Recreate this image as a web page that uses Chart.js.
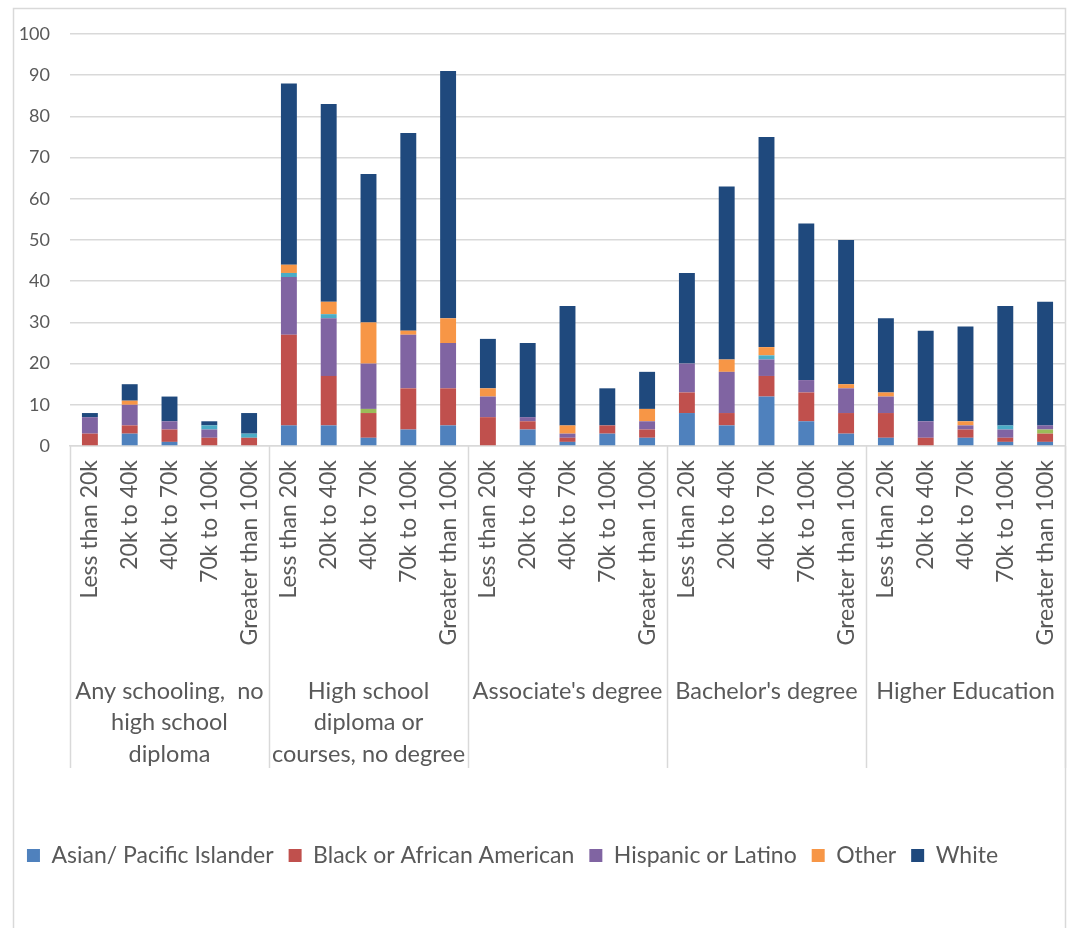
<!DOCTYPE html>
<html>
<head>
<meta charset="utf-8">
<script src="https://cdn.jsdelivr.net/npm/chart.js@4.4.0/dist/chart.umd.min.js"></script>
<style>
  html, body { margin: 0; padding: 0; background: #fff; }
  #wrap { width: 1069px; height: 928px; }
</style>
</head>
<body>
<div id="wrap"><canvas id="chart"></canvas></div>
<script>
'use strict'

const incomeLabels = ['Less than 20k', '20k to 40k', '40k to 70k', '70k to 100k', 'Greater than 100k']
const educationGroups = [
    ['Any schooling,  no', 'high school', 'diploma'],
    ['High school', 'diploma or', 'courses, no degree'],
    ["Associate's degree"],
    ["Bachelor's degree"],
    ['Higher Education']
]

// 25 bars: the five income brackets inside each education group
const asian    = [0, 3, 1, 0, 0,   5, 5, 2, 4, 5,       0, 4, 1, 3, 2,    8, 5, 12, 6, 3,     2, 0, 2, 1, 1]
const black    = [3, 2, 3, 2, 2,   22, 12, 6, 10, 9,    7, 2, 1, 2, 2,    5, 3, 5, 7, 5,      6, 2, 2, 1, 2]
const native   = [0, 0, 0, 0, 0,   0, 0, 1, 0, 0,       0, 0, 0, 0, 0,    0, 0, 0, 0, 0,      0, 0, 0, 0, 1]
const hispanic = [4, 5, 2, 2, 0,   14, 14, 11, 13, 11,  5, 1, 1, 0, 2,    7, 10, 4, 3, 6,     4, 4, 1, 2, 1]
const multi    = [0, 0, 0, 1, 1,   1, 1, 0, 0, 0,       0, 0, 0, 0, 0,    0, 0, 1, 0, 0,      0, 0, 0, 1, 0]
const other    = [0, 1, 0, 0, 0,   2, 3, 10, 1, 6,      2, 0, 2, 0, 3,    0, 3, 2, 0, 1,      1, 0, 1, 0, 0]
const white    = [1, 4, 6, 1, 5,   44, 48, 36, 48, 60,  12, 18, 29, 9, 9, 22, 42, 51, 38, 35, 18, 22, 23, 29, 30]

const yTicks = [0, 10, 20, 30, 40, 50, 60, 70, 80, 90, 100]

const textColor = '#595959'
const lineColor = '#d9d9d9'
const fontFamily = 'Lato, "Open Sans", sans-serif'

const chartLabels = educationGroups.flatMap(() => incomeLabels)

const series = [
    {label: 'Asian/ Pacific Islander', data: asian, color: '#4f81bd', legend: true},
    {label: 'Black or African American', data: black, color: '#c0504d', legend: true},
    {label: 'American Indian', data: native, color: '#9bbb59', legend: false},
    {label: 'Hispanic or Latino', data: hispanic, color: '#8064a2', legend: true},
    {label: 'Two or more races', data: multi, color: '#4bacc6', legend: false},
    {label: 'Other', data: other, color: '#f79646', legend: true},
    {label: 'White', data: white, color: '#1f497d', legend: true}
]

// frame around the whole chart
const chartFrame = {
    id: 'chartFrame',
    beforeDraw(chart) {
        const ctx = chart.ctx
        ctx.save()
        ctx.fillStyle = '#fff'
        ctx.fillRect(0, 0, chart.width, chart.height)
        ctx.strokeStyle = lineColor
        ctx.lineWidth = 1.5
        ctx.strokeRect(13.5, 8.5, 1052, 940)
        ctx.restore()
    },
    // legend sits a little left of centre
    afterLayout(chart) {
        chart.legend.right -= 40
    }
}

// second level of the category axis: group names and separators
const groupAxis = {
    id: 'groupAxis',
    afterDraw(chart) {
        const {ctx, chartArea} = chart
        const x = chart.scales.x
        const step = x.getPixelForValue(1) - x.getPixelForValue(0)
        const per = incomeLabels.length
        const top = chartArea.bottom
        const bottom = top + 322

        ctx.save()
        ctx.strokeStyle = lineColor
        ctx.lineWidth = 1.5
        for (let g = 0; g <= educationGroups.length; g++) {
            const px = Math.round(x.getPixelForValue(g * per) - step / 2) + 0.5
            ctx.beginPath()
            ctx.moveTo(px, top)
            ctx.lineTo(px, bottom)
            ctx.stroke()
        }

        ctx.fillStyle = textColor
        ctx.font = `23.5px ${fontFamily}`
        ctx.textAlign = 'center'
        ctx.textBaseline = 'middle'
        educationGroups.forEach((lines, g) => {
            const mid = x.getPixelForValue(g * per + (per - 1) / 2)
            lines.forEach((line, i) => {
                ctx.fillText(line, mid, top + 245 + i * 31.5)
            })
        })
        ctx.restore()
    }
}

const data = {
    labels: chartLabels,
    datasets: series.map(s => ({
        label: s.label,
        data: s.data,
        backgroundColor: s.color,
        borderWidth: 0,
        barPercentage: 0.4,
        categoryPercentage: 1.0,
        showInLegend: s.legend
    }))
}

const config = {
    type: 'bar',
    data: data,
    options: {
        responsive: false,
        animation: false,
        layout: {padding: {left: 0, right: 4, top: 34, bottom: 51}},
        scales: {
            x: {
                stacked: true,
                grid: {display: false, drawTicks: false},
                border: {color: lineColor, width: 1.5},
                ticks: {
                    color: textColor,
                    font: {family: fontFamily, size: 23},
                    minRotation: 90,
                    maxRotation: 90,
                    autoSkip: false,
                    padding: 14
                },
                afterFit: scale => {
                    scale.height = 383
                    scale.paddingLeft = 0
                    scale.paddingRight = 0
                }
            },
            y: {
                stacked: true,
                min: 0,
                max: 100,
                afterBuildTicks: scale => { scale.ticks = yTicks.map(v => ({value: v})) },
                afterFit: scale => { scale.width = 70 },
                grid: {color: lineColor, lineWidth: 1.5, drawTicks: false},
                border: {display: false},
                ticks: {
                    color: textColor,
                    font: {family: fontFamily, size: 18},
                    padding: 20
                }
            }
        },
        plugins: {
            legend: {
                position: 'bottom',
                labels: {
                    filter: (item, chartData) => chartData.datasets[item.datasetIndex].showInLegend,
                    color: textColor,
                    font: {family: fontFamily, size: 23},
                    boxWidth: 13,
                    boxHeight: 13,
                    padding: 15
                }
            },
            tooltip: {enabled: false}
        }
    },
    plugins: [chartFrame, groupAxis]
}

const canvas = document.getElementById('chart')
canvas.width = 1069
canvas.height = 928
new Chart(canvas.getContext('2d'), config)
</script>
</body>
</html>
